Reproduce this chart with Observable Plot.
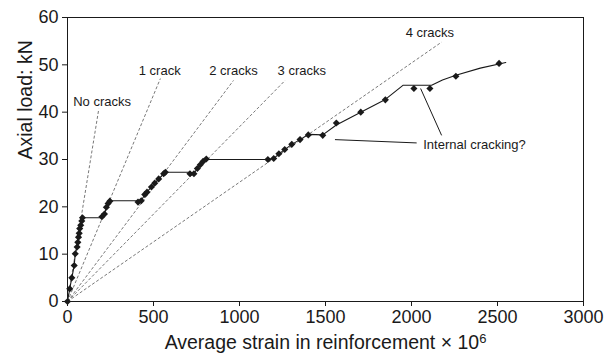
<!DOCTYPE html>
<html>
<head>
<meta charset="utf-8">
<script src="https://cdn.jsdelivr.net/npm/d3@7"></script>
<script src="https://cdn.jsdelivr.net/npm/@observablehq/plot@0.6"></script>
<style>
  html, body { margin: 0; padding: 0; background: #ffffff; }
  #chart svg { display: block; }
</style>
</head>
<body>
<div id="chart"></div>
<script>
// Measured points: average strain (×10^6) and axial load (kN)
const markerStrain = [0, 13, 25, 39, 45, 56, 60, 64, 68, 71, 77, 83, 87,
  200, 215, 226, 236, 246,
  410, 429, 449, 462, 488, 507, 530, 559, 569,
  712, 735, 755, 772, 788, 807,
  1165, 1199, 1229, 1263, 1304, 1352, 1400, 1484,
  1563, 1705, 1848, 2014, 2107, 2258, 2509];
const markerLoad = [0, 2.7, 5.0, 7.6, 10.1, 11.5, 12.5, 13.6, 14.4, 15.4, 16.1, 17.0, 17.7,
  17.9, 18.5, 19.9, 20.7, 21.2,
  21.0, 21.3, 22.6, 23.1, 24.2, 25.0, 25.9, 27.0, 27.3,
  27.0, 27.0, 28.1, 28.9, 29.6, 30.1,
  30.0, 30.2, 31.2, 32.1, 33.2, 34.2, 35.2, 35.1,
  37.7, 40.0, 42.6, 45.0, 45.0, 47.6, 50.3];

// Load path drawn through the test (plateaus at each new crack)
const lineStrain = [0, 13, 25, 39, 45, 56, 64, 71, 77, 83, 87, 200, 215, 226, 236, 246,
  410, 429, 449, 488, 530, 569, 712, 735, 755, 788, 807,
  1165, 1199, 1229, 1304, 1352, 1400, 1484, 1563, 1705, 1848,
  1952, 2117, 2180, 2258, 2400, 2548];
const lineLoad = [0, 2.7, 5.0, 7.6, 10.1, 11.5, 13.6, 15.4, 16.1, 17.0, 17.7, 17.7, 18.5, 19.9, 20.7, 21.3,
  21.3, 21.3, 22.6, 24.2, 25.9, 27.3, 27.3, 27.1, 28.1, 29.6, 30.0,
  30.0, 30.2, 31.2, 33.2, 34.2, 35.3, 35.2, 37.3, 40.0, 42.7,
  45.7, 45.7, 46.8, 47.8, 49.3, 50.5];

// Theoretical stiffness lines from the origin for 0–4 cracks
const crackLabels = ["No cracks", "1 crack", "2 cracks", "3 cracks", "4 cracks"];
const crackEndStrain = [182, 540, 965, 1265, 2175];
const crackEndLoad = [40.7, 47.1, 46.7, 46.7, 54.8];
const crackLabelStrain = [201, 536, 965, 1362, 2107];
const crackLabelLoad = [42.1, 48.7, 48.7, 48.7, 56.7];

// Callout
const calloutText = "Internal cracking?";
const calloutTextStrain = 2068;
const calloutTextLoad = 33.2;
const calloutFromStrain = [2030, 2175];
const calloutFromLoad = [33.5, 35.1];
const calloutToStrain = [1555, 2053];
const calloutToLoad = [34.2, 45.0];

// Axes
const xTicks = [0, 500, 1000, 1500, 2000, 2500, 3000];
const yTicks = [0, 10, 20, 30, 40, 50, 60];
const xTitle = "Average strain in reinforcement \u00d7 10";
const xTitleExponent = "6";
const yTitle = "Axial load: kN";

const markers = markerStrain.map((s, i) => ({strain: s, load: markerLoad[i]}));
const path = lineStrain.map((s, i) => ({strain: s, load: lineLoad[i]}));
const cracks = crackLabels.map((label, i) => ({
  label, x2: crackEndStrain[i], y2: crackEndLoad[i],
  lx: crackLabelStrain[i], ly: crackLabelLoad[i]
}));
const callouts = calloutFromStrain.map((s, i) => ({
  x1: s, y1: calloutFromLoad[i], x2: calloutToStrain[i], y2: calloutToLoad[i]
}));

const ink = "#1a1a1a";
const font = "'Liberation Sans', Arial, Helvetica, sans-serif";
const tickFont = 18;
const titleFont = 19.5;

const chart = Plot.plot({
  width: 616,
  height: 360,
  marginLeft: 67,
  marginRight: 33,
  marginTop: 17,
  marginBottom: 59,
  style: {fontFamily: font, fontSize: "17px", color: ink, background: "#ffffff"},
  x: {domain: [0, 3000], label: null},
  y: {domain: [0, 60], label: null},
  marks: [
    Plot.frame({stroke: ink, strokeWidth: 1}),
    Plot.axisX({ticks: xTicks, tickFormat: d => String(d), tickSize: 5, tickPadding: 4, fontSize: tickFont, label: null, stroke: ink}),
    Plot.axisY({ticks: yTicks, tickFormat: d => String(d), tickSize: 5, tickPadding: 4, fontSize: tickFont, label: null, stroke: ink}),
    // stiffness lines
    Plot.link(cracks, {
      x1: () => 0, y1: () => 0, x2: "x2", y2: "y2",
      stroke: "#555", strokeWidth: 0.8, strokeDasharray: "3,2"
    }),
    Plot.text(cracks, {x: "lx", y: "ly", text: "label", fontSize: 13, fill: ink}),
    // test load path and measured points
    Plot.line(path, {x: "strain", y: "load", stroke: ink, strokeWidth: 1.1}),
    Plot.dot(markers, {x: "strain", y: "load", symbol: "diamond2", r: 3.2, fill: ink, stroke: "none"}),
    // callout
    Plot.link(callouts, {x1: "x1", y1: "y1", x2: "x2", y2: "y2", stroke: ink, strokeWidth: 1, ariaLabel: "callout"}),
    Plot.text([calloutText], {x: () => calloutTextStrain, y: () => calloutTextLoad, text: d => d, textAnchor: "start", fontSize: 13, fill: ink}),
    // axis titles
    Plot.text([xTitle], {frameAnchor: "bottom", lineAnchor: "middle", dy: 41, text: d => d, fontSize: titleFont, fill: ink}),
    Plot.text([yTitle], {frameAnchor: "left", lineAnchor: "middle", dx: -42, rotate: -90, text: d => d, fontSize: titleFont, fill: ink})
  ]
});

const svg = d3.select(chart);

// superscript exponent on the x-axis title
svg.selectAll("text")
  .filter(function() { return this.textContent === xTitle; })
  .append("tspan")
  .attr("dy", "-0.45em")
  .attr("font-size", "13px")
  .text(xTitleExponent);

// filled arrowheads on the callout lines
svg.insert("defs", ":first-child")
  .append("marker")
  .attr("id", "callout-head")
  .attr("viewBox", "0 0 10 10")
  .attr("refX", 10)
  .attr("refY", 5)
  .attr("markerWidth", 9)
  .attr("markerHeight", 7)
  .attr("markerUnits", "userSpaceOnUse")
  .attr("orient", "auto")
  .append("path")
  .attr("d", "M0,0L10,5L0,10Z")
  .attr("fill", ink);
svg.selectAll('g[aria-label="callout"] path').attr("marker-end", "url(#callout-head)");

document.getElementById("chart").append(chart);
</script>
</body>
</html>
